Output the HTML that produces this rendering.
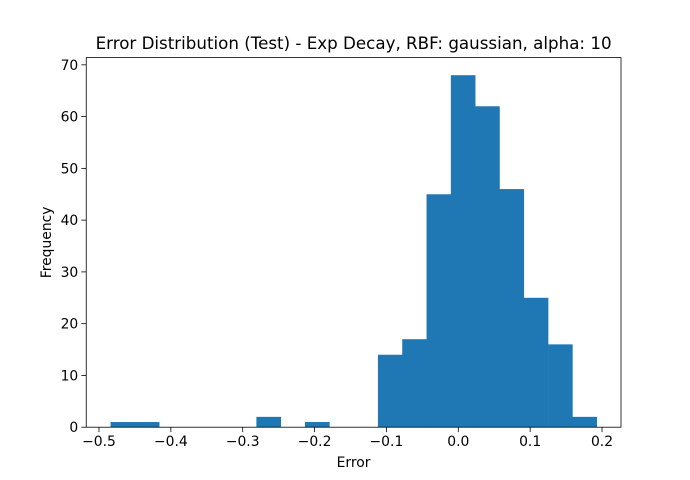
<!DOCTYPE html>
<html><head><meta charset="utf-8"><style>
html,body{margin:0;padding:0;background:#fff;}
svg{display:block;font-family:"DejaVu Sans","Liberation Sans",sans-serif;}
</style></head><body>
<svg id="chart" width="690" height="480" viewBox="0 0 690 480">
<rect width="690" height="480" fill="#fff"/>
<text x="353.6" y="49" font-size="16.7" text-anchor="middle" fill="#000">Error Distribution (Test) - Exp Decay, RBF: gaussian, alpha: 10</text>
<g id="bars"></g>
<g id="xticks"></g>
<g id="yticks"></g>
<rect x="86.25" y="57.6" width="534.75" height="369.6" fill="none" stroke="#000" stroke-width="0.8"/>
<text x="353.6" y="467" font-size="13.9" text-anchor="middle">Error</text>
<text x="0" y="0" font-size="13.9" text-anchor="middle" transform="translate(51,242.4) rotate(-90)">Frequency</text>
</svg>
<script>
const counts = [1,1,0,0,0,0,2,0,1,0,0,14,17,45,68,62,46,25,16,2];
const binLo = -0.4839;
const binHi = 0.1926;
const xTicks = [-0.5,-0.4,-0.3,-0.2,-0.1,0.0,0.1,0.2];
const xTickLabels = ["\u22120.5","\u22120.4","\u22120.3","\u22120.2","\u22120.1","0.0","0.1","0.2"];
const yTicks = [0,10,20,30,40,50,60,70];

const L=86.25,R=621,T=57.6,B=427.2;
const span=binHi-binLo;
const xMin=binLo-0.05*span, xMax=binHi+0.05*span;
const yMax=Math.max(...counts)*1.05;
const X=v=>L+(v-xMin)/(xMax-xMin)*(R-L);
const Y=v=>B-v/yMax*(B-T);
const NS="http://www.w3.org/2000/svg";
const bars=document.getElementById('bars');
const w=span/counts.length;
counts.forEach((c,i)=>{
  if(c<=0) return;
  const r=document.createElementNS(NS,'rect');
  const x0=X(binLo+i*w), x1=X(binLo+(i+1)*w);
  r.setAttribute('x',x0);r.setAttribute('width',x1-x0+0.3);
  r.setAttribute('y',Y(c));r.setAttribute('height',B-Y(c));
  r.setAttribute('fill','#1f77b4');
  
  
  bars.appendChild(r);
});
const xg=document.getElementById('xticks');
xTicks.forEach((t,i)=>{
  const x=X(t);
  const l=document.createElementNS(NS,'line');
  l.setAttribute('x1',x);l.setAttribute('x2',x);l.setAttribute('y1',B);l.setAttribute('y2',B+4.9);
  l.setAttribute('stroke','#000');l.setAttribute('stroke-width','0.8');
  
  
  xg.appendChild(l);
  const tx=document.createElementNS(NS,'text');
  tx.setAttribute('x',x);tx.setAttribute('y',B+19);tx.setAttribute('font-size','13.9');tx.setAttribute('text-anchor','middle');
  tx.textContent=xTickLabels[i];
  
  
  xg.appendChild(tx);
});
const yg=document.getElementById('yticks');
yTicks.forEach(t=>{
  const y=Y(t);
  const l=document.createElementNS(NS,'line');
  l.setAttribute('x1',L-4.9);l.setAttribute('x2',L);l.setAttribute('y1',y);l.setAttribute('y2',y);
  l.setAttribute('stroke','#000');l.setAttribute('stroke-width','0.8');
  
  
  yg.appendChild(l);
  const tx=document.createElementNS(NS,'text');
  tx.setAttribute('x',L-8);tx.setAttribute('y',y+5);tx.setAttribute('font-size','13.9');tx.setAttribute('text-anchor','end');
  tx.textContent=String(t);
  
  
  yg.appendChild(tx);
});
</script>
</body></html>
